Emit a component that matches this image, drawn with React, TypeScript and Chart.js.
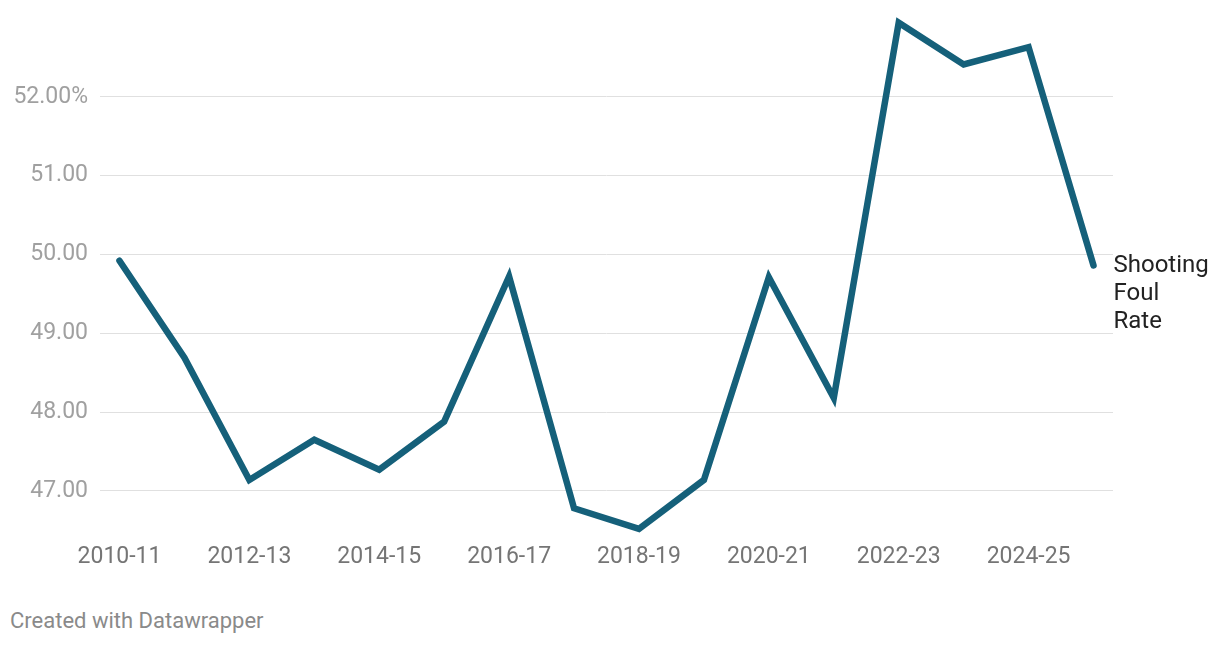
import React, { useEffect, useRef } from "react";
import { Chart, registerables } from "chart.js";

Chart.register(...registerables);

const seasons = [
  "2010-11", "2011-12", "2012-13", "2013-14", "2014-15", "2015-16", "2016-17", "2017-18",
  "2018-19", "2019-20", "2020-21", "2021-22", "2022-23", "2023-24", "2024-25", "2025-26",
];
const shootingFoulRate = [
  49.92, 48.69, 47.14, 47.65, 47.27, 47.88, 49.72, 46.78,
  46.52, 47.14, 49.71, 48.18, 52.94, 52.41, 52.63, 49.86,
];
const yTicks = [47, 48, 49, 50, 51, 52];
const xTickIndexes = [0, 2, 4, 6, 8, 10, 12, 14];
const seriesLabel = ["Shooting", "Foul", "Rate"];

const LINE_COLOR = "#15607a";

export default function App() {
  const ref = useRef<HTMLCanvasElement | null>(null);

  useEffect(() => {
    if (!ref.current) return;
    const endLabel = {
      id: "endLabel",
      afterDatasetsDraw(chart: any) {
        const meta = chart.getDatasetMeta(0);
        const last = meta.data[meta.data.length - 1];
        if (!last) return;
        const ctx = chart.ctx;
        ctx.save();
        ctx.font = "24px Roboto";
        ctx.fillStyle = "#222222";
        ctx.textAlign = "left";
        ctx.textBaseline = "middle";
        seriesLabel.forEach((t, i) => {
          ctx.fillText(t, last.x + 20, last.y + 1 + i * 28);
        });
        ctx.restore();
      },
    };
    const chart = new Chart(ref.current, {
      type: "line",
      data: {
        datasets: [
          {
            label: "Shooting Foul Rate",
            data: shootingFoulRate.map((v, i) => ({ x: i, y: v })),
            borderColor: LINE_COLOR,
            borderWidth: 6.5,
            borderCapStyle: "round",
            borderJoinStyle: "miter",
            pointRadius: 0,
            tension: 0,
            clip: false,
          } as any,
        ],
      },
      options: {
        animation: false,
        responsive: false,
        maintainAspectRatio: false,
        layout: { padding: { top: 10, right: 107, bottom: 0, left: 0 } },
        plugins: { legend: { display: false }, tooltip: { enabled: false } },
        scales: {
          x: {
            type: "linear",
            min: -0.3,
            max: 15.3,
            afterBuildTicks: (scale: any) => {
              scale.ticks = xTickIndexes.map((v) => ({ value: v }));
            },
            afterFit: (scale: any) => {
              scale.height = 43;
            },
            grid: { display: false, drawTicks: false },
            border: { display: false },
            ticks: {
              autoSkip: false,
              maxRotation: 0,
              padding: 6,
              color: "#757575",
              font: { family: "Roboto", size: 23 },
              callback: (v: any) => seasons[v as number] ?? "",
            },
          },
          y: {
            type: "linear",
            min: 46.416,
            max: 52.9,
            afterBuildTicks: (scale: any) => {
              scale.ticks = yTicks.map((v) => ({ value: v }));
            },
            afterFit: (scale: any) => {
              scale.width = 100;
            },
            grid: { color: "#e0e0e0", lineWidth: 1, drawTicks: false },
            border: { display: false },
            ticks: {
              padding: 12,
              color: "#a0a0a0",
              font: { family: "Roboto", size: 23 },
              callback: (v: any) => (v === 52 ? "52.00%" : Number(v).toFixed(2)),
            },
          },
        },
      },
      plugins: [endLabel],
    });
    return () => chart.destroy();
  }, []);

  return (
    <div style={{ position: "fixed", left: 0, top: 0, width: 1220, height: 646, background: "#fff", fontFamily: "Roboto" }}>
      <canvas ref={ref} width={1220} height={580} style={{ position: "absolute", left: 0, top: 0, width: 1220, height: 580 }} />
      <div style={{ position: "absolute", left: 10, top: 607, fontSize: 22, color: "#8a8a8a", lineHeight: "28px" }}>
        Created with Datawrapper
      </div>
    </div>
  );
}
